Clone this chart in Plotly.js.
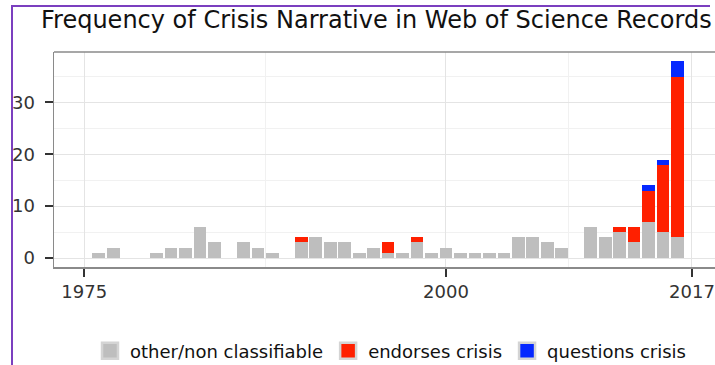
<!DOCTYPE html>
<html>
<head>
<meta charset="utf-8">
<script src="https://cdn.plot.ly/plotly-3.0.1.min.js"></script>
<style>
  html, body { margin: 0; padding: 0; background: #ffffff; overflow: hidden; }
  #wrap { position: relative; width: 715px; height: 365px; overflow: hidden; }
  #chart { position: absolute; left: 0; top: 0; width: 760px; height: 365px; }
</style>
</head>
<body>
<div id="wrap">
  <div id="chart"></div>
</div>
<script>
// ---- data ----
const years = [1976,1977,1978,1979,1980,1981,1982,1983,1984,1985,1986,1987,1988,1989,1990,
               1991,1992,1993,1994,1995,1996,1997,1998,1999,2000,2001,2002,2003,2004,2005,
               2006,2007,2008,2009,2010,2011,2012,2013,2014,2015,2016];
const otherCounts = [1,2,0,0,1,2,2,6,3,0,3,2,1,0,3,
                     4,3,3,1,2,1,1,3,1,2,1,1,1,1,4,
                     4,3,2,0,6,4,5,3,7,5,4];
const endorsesCounts = [0,0,0,0,0,0,0,0,0,0,0,0,0,0,1,
                        0,0,0,0,0,2,0,1,0,0,0,0,0,0,0,
                        0,0,0,0,0,0,1,3,6,13,31];
const questionsCounts = [0,0,0,0,0,0,0,0,0,0,0,0,0,0,0,
                         0,0,0,0,0,0,0,0,0,0,0,0,0,0,0,
                         0,0,0,0,0,0,0,0,1,1,3];
const seriesNames = ['other/non classifiable', 'endorses crisis', 'questions crisis'];
const xTickVals = [1975, 2000, 2017];
const yTickVals = [0, 10, 20, 30];
const chartTitle = 'Frequency of Crisis Narrative in Web of Science Records';

const colors = ['#bebebe', '#ff2000', '#0528ff'];
const FONT = 'DejaVu Sans';
const FIG_W = 760;   // figure is wider than the window; its right part is cropped like the reference
const FIG_H = 365;
const M = { l: 54, r: 0, t: 52, b: 98 };
const PLOT_W = FIG_W - M.l - M.r;
const PLOT_H = FIG_H - M.t - M.b;

function barTrace(y, i) {
  return {
    type: 'bar', x: years, y: y, name: seriesNames[i], width: 0.88,
    marker: { color: colors[i], line: { width: 0 } },
    showlegend: false, hoverinfo: 'x+y+name'
  };
}
function legendTrace(i) {
  return {
    type: 'scatter', mode: 'markers', x: [null], y: [null], name: seriesNames[i],
    marker: { symbol: 'square', size: 16, color: colors[i], line: { width: 2.5, color: '#d4d4d4' } },
    showlegend: true, hoverinfo: 'skip'
  };
}

const data = [
  barTrace(otherCounts, 0), barTrace(endorsesCounts, 1), barTrace(questionsCounts, 2),
  legendTrace(0), legendTrace(1), legendTrace(2)
];

const pxPerYear = 14.47;
const xMin = 1972.91;
const xMax = xMin + PLOT_W / pxPerYear;

// purple outer frame of the source picture (page decoration, in paper units)
const px2paperX = p => (p - M.l) / PLOT_W;
const px2paperY = p => 1 - (p - M.t) / PLOT_H;
const frameColor = '#7b3fbf';
const panelLine = '#8a8a8a';

const layout = {
  width: FIG_W, height: FIG_H,
  margin: { l: M.l, r: M.r, t: M.t, b: M.b, pad: 0 },
  paper_bgcolor: '#ffffff', plot_bgcolor: '#ffffff',
  barmode: 'stack', bargap: 0,
  font: { family: FONT, color: '#111111', size: 18 },
  title: {
    text: chartTitle, xref: 'container', yref: 'container',
    x: 41 / FIG_W, xanchor: 'left', y: 1 - 28 / FIG_H, yanchor: 'bottom',
    font: { family: FONT, size: 24, color: '#111111' }
  },
  xaxis: {
    range: [xMin, xMax], tickmode: 'array', tickvals: xTickVals,
    ticks: 'outside', ticklen: 8, tickwidth: 2, tickcolor: '#333333',
    tickfont: { family: FONT, size: 18, color: '#333333' },
    showgrid: true, gridcolor: '#e4e4e4', gridwidth: 1,
    minor: { tickvals: [1987.5, 2008.5], showgrid: true, gridcolor: '#f1f1f1', gridwidth: 1, ticks: '' },
    showline: true, linecolor: panelLine, linewidth: 1.5, mirror: false,
    zeroline: false, fixedrange: true
  },
  yaxis: {
    range: [-1.73, 39.73], tickmode: 'array', tickvals: yTickVals,
    ticks: 'outside', ticklen: 8, tickwidth: 2, tickcolor: '#333333',
    ticklabelstandoff: 6,
    tickfont: { family: FONT, size: 18, color: '#333333' },
    showgrid: true, gridcolor: '#e4e4e4', gridwidth: 1,
    minor: { tickvals: [5, 15, 25, 35], showgrid: true, gridcolor: '#f1f1f1', gridwidth: 1, ticks: '' },
    showline: true, linecolor: panelLine, linewidth: 1.5, mirror: false,
    zeroline: false, fixedrange: true
  },
  shapes: [
    // top edge of the panel border
    { type: 'line', xref: 'paper', yref: 'paper', layer: 'above',
      x0: 0, x1: 1, y0: 1, y1: 1, line: { color: panelLine, width: 1.5 } },
    // purple frame of the source picture
    { type: 'line', xref: 'paper', yref: 'paper', layer: 'above',
      x0: px2paperX(12), x1: px2paperX(710), y0: px2paperY(6), y1: px2paperY(6),
      line: { color: frameColor, width: 2 } },
    { type: 'line', xref: 'paper', yref: 'paper', layer: 'above',
      x0: px2paperX(12), x1: px2paperX(12), y0: px2paperY(5), y1: px2paperY(366),
      line: { color: frameColor, width: 2 } }
  ],
  showlegend: true,
  legend: {
    orientation: 'h', xref: 'container', yref: 'container',
    x: 90 / FIG_W, xanchor: 'left', y: 1 - 351 / FIG_H, yanchor: 'middle',
    font: { family: FONT, size: 18, color: '#111111' },
    bgcolor: 'rgba(0,0,0,0)', borderwidth: 0, traceorder: 'normal'
  }
};

Plotly.newPlot('chart', data, layout, { displayModeBar: false, staticPlot: true }).then(function () {
  // hide any stray thin vertical element drawn near the cropped right edge (the reference has none there)
  document.querySelectorAll('#chart svg path, #chart svg line, #chart svg rect').forEach(function (el) {
    const r = el.getBoundingClientRect();
    if (r.width <= 3 && r.height > 100 && r.left >= 700) el.style.display = 'none';
  });
});
</script>
</body>
</html>
